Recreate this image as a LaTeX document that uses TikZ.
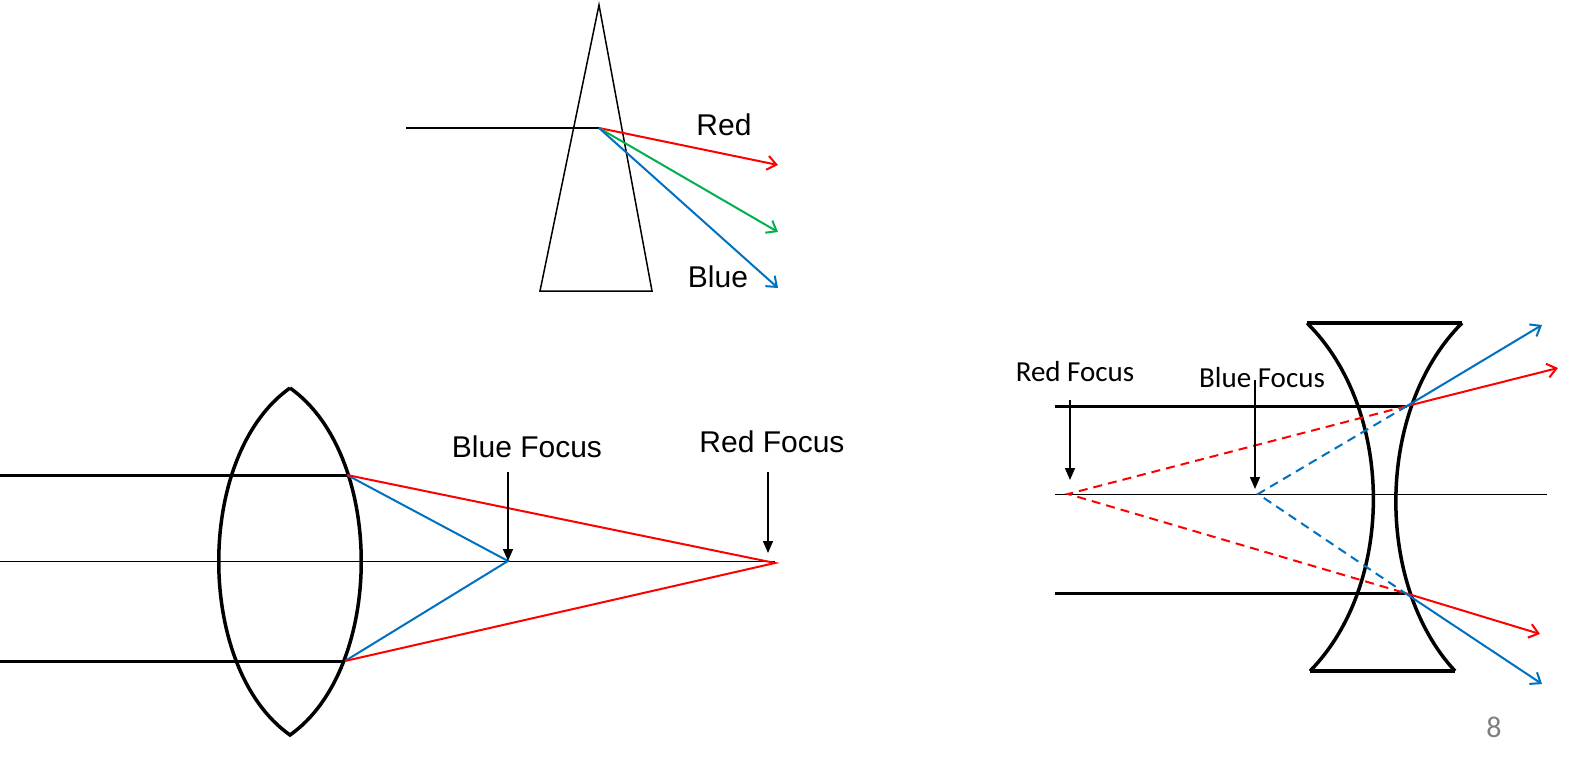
\documentclass[tikz,border=0pt]{standalone}
\usepackage{fontspec}
\setmainfont{Liberation Sans}
\newfontfamily\calfont{Carlito}
\usetikzlibrary{arrows.meta}
\definecolor{myred}{RGB}{255,0,0}
\definecolor{myblue}{RGB}{0,112,192}
\definecolor{mygreen}{RGB}{0,176,80}
\begin{document}
\begin{tikzpicture}[x=1pt,y=-1pt,
  lens/.style={line width=3.5pt},
  ray/.style={line width=2pt},
  axis/.style={line width=0.8pt},
  arr/.style={-{Straight Barb[length=9pt,width=14pt]}},
  farr/.style={line width=1.5pt,-{Triangle[length=12pt,width=10pt]}},
  lab/.style={font=\fontsize{30}{32}\selectfont,inner sep=0pt},
  clab/.style={font=\calfont\fontsize{29}{31}\selectfont,inner sep=0pt}]
\useasboundingbox (0,0) rectangle (1596,768);
% prism
\draw[line width=1.5pt] (599,5) -- (540,291) -- (652,291) -- cycle;
\coordinate (pin) at (406,128);
\coordinate (ph) at (599,128);
\draw[ray] (pin) -- (ph);
\draw[ray,myred,arr] (ph) -- (778,165);
\draw[ray,mygreen,arr] (ph) -- (778,232);
\draw[ray,myblue,arr] (ph) -- (778,288);
\node[lab] (rl) at (724,125) {Red};
\node[lab] (bl) at (718,277) {Blue};
% convex lens
\draw[lens] (290,388) .. controls (195,455) and (195,668) .. (290,735)
            .. controls (385,668) and (385,455) .. (290,388);
\coordinate (t0) at (0,475); \coordinate (t1) at (347,475);
\coordinate (b0) at (0,661); \coordinate (b1) at (345,661);
\coordinate (bf) at (508,561); \coordinate (rf) at (775,563);
\draw[axis] (0,561) -- (775,561);
\draw[lens,line width=3pt] (t0) -- (t1);
\draw[lens,line width=3pt] (b0) -- (b1);
\draw[ray,myblue] (t1) -- (bf) -- (b1);
\draw[ray,myred] (t1) -- (rf) -- (b1);
\node[lab] (bfl) at (527,447) {Blue Focus};
\node[lab] (rfl) at (772,442) {Red Focus};
\draw[farr] (508,472) -- (bf);
\draw[farr] (768,472) -- (768,553);
% concave lens
\draw[lens] (1307,323) -- (1462,323);
\draw[lens] (1310,671) -- (1455,671);
\draw[lens] (1307,323) .. controls (1395,410) and (1395,585) .. (1310,671);
\draw[lens] (1462,323) .. controls (1375,410) and (1375,585) .. (1455,671);
\coordinate (ct) at (1407,406); \coordinate (cb) at (1405,593);
\coordinate (crf) at (1068,494); \coordinate (cbf) at (1258,494);
\draw[axis] (1055,494) -- (1547,494);
\draw[lens,line width=3pt] (1055,406) -- (ct);
\draw[lens,line width=3pt] (1055,593) -- (cb);
\draw[ray,myred,dash pattern=on 9pt off 6pt] (ct) -- (crf) -- (cb);
\draw[ray,myblue,dash pattern=on 9pt off 6pt] (ct) -- (cbf) -- (cb);
\draw[ray,myred,arr] (ct) -- (1558,368);
\draw[ray,myblue,arr] (ct) -- (1542,325);
\draw[ray,myred,arr] (cb) -- (1540,634);
\draw[ray,myblue,arr] (cb) -- (1542,684);
\node[clab] (crl) at (1075,372) {Red Focus};
\node[clab] (cbl) at (1262,378) {Blue Focus};
\draw[farr] (1070,400) -- (1070,480);
\draw[farr] (1255,380) -- (1255,489);
\node[font=\calfont\fontsize{30}{32}\selectfont,text=gray,inner sep=0pt] (pg) at (1494,727) {8};
\end{tikzpicture}
\end{document}
